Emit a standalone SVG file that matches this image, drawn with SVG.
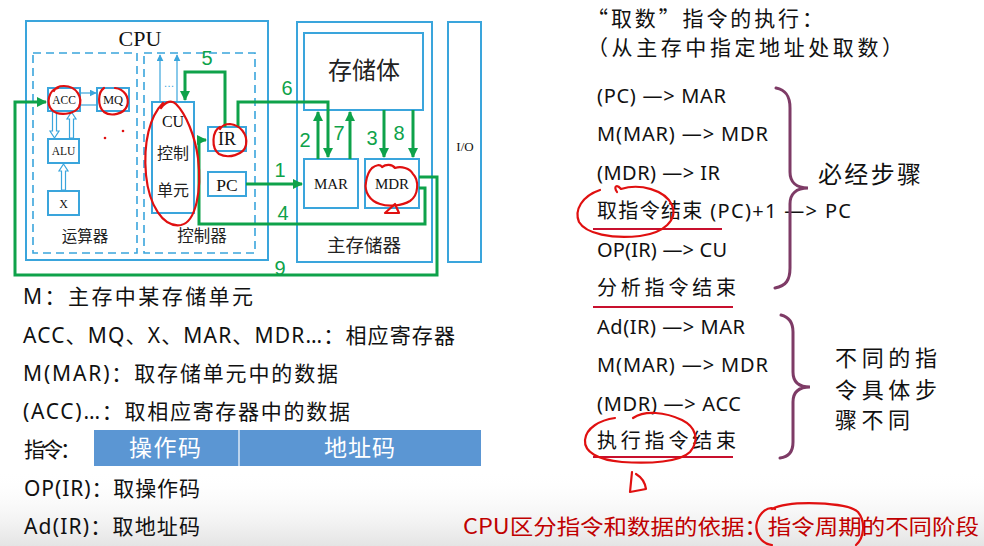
<svg xmlns="http://www.w3.org/2000/svg" width="984" height="546" viewBox="0 0 984 546">
  <style>
    .box { fill: none; stroke: #3aa5dc; stroke-width: 2; }
    .wbox { fill: #ffffff; stroke: #3aa5dc; stroke-width: 2; }
    .dash { fill: none; stroke: #3aa5dc; stroke-width: 1.6; stroke-dasharray: 8 5; }
    .thin { fill: none; stroke: #3aa5dc; stroke-width: 1.2; }
    .hollow { fill: #ffffff; stroke: #3aa5dc; stroke-width: 1.2; }
    .serif { font-family: "Liberation Serif", "Noto Sans CJK SC", serif; fill: #111111; text-anchor: middle; }
    .cjk { font-family: "Noto Sans CJK SC", sans-serif; fill: #222222; text-anchor: middle; }
    .wire { fill: none; stroke: #0ea24a; stroke-width: 3; stroke-linejoin: miter; }
    .num { font-family: "Liberation Sans", "Noto Sans", sans-serif; font-size: 20px; fill: #0ea24a; text-anchor: middle; }
    .txt { font-family: "Noto Sans", "Noto Sans CJK SC", sans-serif; font-size: 20px; fill: #111111; }
    .leg { font-family: "Noto Sans", "Noto Sans CJK SC", sans-serif; font-size: 21px; fill: #111111; }
    .zh { font-family: "Noto Sans CJK SC", sans-serif; fill: #111111; }
    .ink { fill: none; stroke: #e01010; stroke-width: 2.2; stroke-linecap: round; stroke-linejoin: round; }
    .uline { stroke: #c8102e; stroke-width: 2; }
    .brace { fill: none; stroke: #7e3b66; stroke-width: 3; stroke-linecap: round; }
  </style>
  <defs>
    <marker id="ga" viewBox="0 0 10 10" refX="9" refY="5" markerWidth="10" markerHeight="10" markerUnits="userSpaceOnUse" orient="auto">
      <path d="M0,0 L10,5 L0,10 Z" fill="#0ea24a"/>
    </marker>
    <marker id="ba" viewBox="0 0 10 10" refX="9" refY="5" markerWidth="7" markerHeight="7" markerUnits="userSpaceOnUse" orient="auto">
      <path d="M0,0 L10,5 L0,10 Z" fill="#3aa5dc"/>
    </marker>
    <linearGradient id="fade" x1="0" y1="0" x2="0" y2="1">
      <stop offset="0" stop-color="#ffffff" stop-opacity="0"/>
      <stop offset="1" stop-color="#e4e4e4" stop-opacity="1"/>
    </linearGradient>
  </defs>

  <!-- page background -->
  <rect x="0" y="0" width="984" height="546" fill="#ffffff"/>
  <rect x="0" y="470" width="984" height="76" fill="url(#fade)"/>

  <!-- CPU -->
  <g id="cpu">
    <rect class="box" x="26" y="21" width="242" height="239"/>
    <text class="serif" x="140" y="46" font-size="22">CPU</text>
  </g>

  <!-- arithmetic unit -->
  <g id="alu-unit">
    <rect class="dash" x="33" y="53" width="104" height="200"/>
    <text class="cjk" x="85" y="242" font-size="15.5">运算器</text>
  </g>
  <g id="acc">
    <rect class="wbox" x="48" y="88" width="32" height="23"/>
    <text class="serif" x="64" y="104" font-size="11.5">ACC</text>
  </g>
  <g id="mq">
    <rect class="wbox" x="97" y="88" width="32" height="23"/>
    <text class="serif" x="113" y="104" font-size="12.5">MQ</text>
  </g>
  <g id="alu">
    <rect class="wbox" x="48" y="139" width="31" height="24"/>
    <text class="serif" x="63.5" y="155" font-size="11.5">ALU</text>
  </g>
  <g id="x">
    <rect class="wbox" x="48" y="191" width="31" height="24"/>
    <text class="serif" x="63.5" y="208" font-size="12">X</text>
  </g>

  <!-- controller -->
  <g id="controller">
    <rect class="dash" x="144" y="53" width="111" height="200"/>
    <text class="cjk" x="202" y="242" font-size="16.5">控制器</text>
  </g>
  <g id="cu">
    <rect class="wbox" x="152" y="102" width="42" height="111"/>
    <text class="serif" x="173" y="127" font-size="16">CU</text>
    <text class="cjk" x="173" y="159" font-size="16">控制</text>
    <text class="cjk" x="173" y="196" font-size="16">单元</text>
  </g>
  <g id="ir">
    <rect class="wbox" x="208" y="127" width="38" height="24"/>
    <text class="serif" x="227" y="145" font-size="18">IR</text>
  </g>
  <g id="pc">
    <rect class="wbox" x="208" y="172" width="38" height="24"/>
    <text class="serif" x="227" y="191" font-size="17.5">PC</text>
  </g>

  <!-- main memory -->
  <g id="memory">
    <rect class="box" x="297" y="22" width="135" height="240"/>
    <text class="cjk" x="364" y="252" font-size="18.5">主存储器</text>
  </g>
  <g id="storage">
    <rect class="wbox" x="304" y="33" width="119" height="77"/>
    <text class="cjk" x="364" y="79" font-size="24">存储体</text>
  </g>
  <g id="mar">
    <rect class="wbox" x="304" y="159" width="54" height="49"/>
    <text class="serif" x="331" y="189" font-size="15">MAR</text>
  </g>
  <g id="mdr">
    <rect class="wbox" x="365" y="159" width="54" height="49"/>
    <text class="serif" x="392" y="189" font-size="15">MDR</text>
  </g>
  <g id="io">
    <rect class="box" x="448" y="22" width="33" height="240"/>
    <text class="serif" x="465" y="151" font-size="13">I/O</text>
  </g>

  <!-- internal CPU paths -->
  <g id="cpu-paths">
    <line class="thin" x1="80" y1="93" x2="96" y2="93" marker-end="url(#ba)"/>
    <line class="thin" x1="80" y1="105" x2="97" y2="105"/>
    <!-- ACC -> ALU, ALU -> ACC, X -> ALU (hollow arrows) -->
    <path class="hollow" d="M52.5,112 V131 H50 L54.5,138 L59,131 H56.5 V112 Z"/>
    <path class="hollow" d="M69.5,138 V119 H67 L71.5,112 L76,119 H73.5 V138 Z"/>
    <path class="hollow" d="M61.5,190 V171 H59 L63.5,164 L68,171 H65.5 V190 Z"/>
    <!-- CU control lines -->
    <line class="thin" x1="160" y1="102" x2="160" y2="55" marker-end="url(#ba)"/>
    <line class="thin" x1="177" y1="102" x2="177" y2="55" marker-end="url(#ba)"/>
    <text x="169" y="87" font-family="Liberation Sans, sans-serif" font-size="11" fill="#3aa5dc" text-anchor="middle">…</text>
  </g>

  <!-- numbered transfer paths -->
  <g id="connectors">
    <path class="wire" d="M246,184 H302" marker-end="url(#ga)"/>
    <path class="wire" d="M318,159 V112" marker-end="url(#ga)"/>
    <path class="wire" d="M384,110 V157" marker-end="url(#ga)"/>
    <path class="wire" d="M419,188 H425 V224 H199 V140 H206" marker-end="url(#ga)"/>
    <path class="wire" d="M225,127 V72 H185 V100" marker-end="url(#ga)"/>
    <path class="wire" d="M238,127 V102 H328 V157" marker-end="url(#ga)"/>
    <path class="wire" d="M350,159 V112" marker-end="url(#ga)"/>
    <path class="wire" d="M413,110 V157" marker-end="url(#ga)"/>
    <path class="wire" d="M419,177 H437 V275 H15 V102 H46" marker-end="url(#ga)"/>
    <text class="num" x="280" y="177">1</text>
    <text class="num" x="305" y="147">2</text>
    <text class="num" x="372" y="145">3</text>
    <text class="num" x="283" y="220">4</text>
    <text class="num" x="207" y="65">5</text>
    <text class="num" x="287" y="95">6</text>
    <text class="num" x="339" y="140">7</text>
    <text class="num" x="399" y="140">8</text>
    <text class="num" x="280" y="275">9</text>
  </g>

  <!-- handwritten marks on the datapath -->
  <g id="marks-left">
    <path class="ink" d="M58,88 C48,90 46,104 52,110 C58,116 74,115 79,107 C83,98 77,86 64,86 C58,86 55,88 54,91"/>
    <path class="ink" d="M104,88 C98,92 97,106 104,112 C111,117 124,114 127,106 C130,97 124,89 115,88"/>
    <circle cx="105" cy="138" r="1.3" fill="#e01010"/>
    <circle cx="123" cy="131" r="1.3" fill="#e01010"/>
    <path class="ink" d="M161,108 C166,101 172,100 176,104 C186,114 195,136 198,158 C202,190 196,222 181,225 C163,228 149,205 146,175 C143,142 150,116 163,103"/>
    <path class="ink" d="M220,127 C212,131 211,148 219,154 C228,159 244,155 246,145 C248,134 240,125 230,124 C224,124 221,127 220,129"/>
    <path class="ink" d="M372,168 C376,165 380,164 382,167 C386,164 392,164 395,168 C401,166 410,168 413,174 C419,180 419,195 410,201 C402,206 388,207 380,204 C370,201 364,192 366,182 C367,175 369,171 372,168"/>
    <path class="ink" d="M385,213 L395,204 L399,213 Z"/>
  </g>

  <!-- legend -->
  <g id="legend">
    <text class="leg" x="23" y="304" textLength="230" lengthAdjust="spacing">M：主存中某存储单元</text>
    <text class="leg" x="23" y="343" textLength="432" lengthAdjust="spacing">ACC、MQ、X、MAR、MDR…：相应寄存器</text>
    <text class="leg" x="23" y="381" textLength="315" lengthAdjust="spacing">M(MAR)：取存储单元中的数据</text>
    <text class="leg" x="23" y="419" textLength="327" lengthAdjust="spacing">(ACC)…：取相应寄存器中的数据</text>
    <text class="leg" x="24" y="457" textLength="57" lengthAdjust="spacing">指令：</text>
    <text class="leg" x="24" y="496" textLength="176" lengthAdjust="spacing">OP(IR)：取操作码</text>
    <text class="leg" x="24" y="534" textLength="176" lengthAdjust="spacing">Ad(IR)：取地址码</text>
  </g>
  <g id="format">
    <rect x="94" y="430" width="387" height="36" fill="#5b96d3"/>
    <line x1="239" y1="430" x2="239" y2="466" stroke="#dce8f6" stroke-width="1.5"/>
    <text x="129" y="456" font-family="Noto Sans CJK SC, sans-serif" font-size="23" fill="#ffffff" textLength="72" lengthAdjust="spacing">操作码</text>
    <text x="324" y="456" font-family="Noto Sans CJK SC, sans-serif" font-size="23" fill="#ffffff" textLength="71" lengthAdjust="spacing">地址码</text>
  </g>

  <!-- fetch-instruction steps -->
  <g id="steps">
    <text class="zh" x="587" y="26" font-size="21" textLength="236" lengthAdjust="spacing">“取数”指令的执行：</text>
    <text class="zh" x="587" y="55" font-size="21" textLength="316" lengthAdjust="spacing">（从主存中指定地址处取数）</text>
    <text class="txt" x="597" y="103" textLength="129" lengthAdjust="spacing">(PC) —&gt; MAR</text>
    <text class="txt" x="597" y="141" textLength="171" lengthAdjust="spacing">M(MAR) —&gt; MDR</text>
    <text class="txt" x="597" y="180" textLength="123" lengthAdjust="spacing">(MDR) —&gt; IR</text>
    <text class="txt" x="597" y="218" textLength="254" lengthAdjust="spacing">取指令结束 (PC)+1 —&gt; PC</text>
    <text class="txt" x="597" y="257" textLength="130" lengthAdjust="spacing">OP(IR) —&gt; CU</text>
    <text class="txt" x="597" y="295" font-size="22" textLength="139" lengthAdjust="spacing">分析指令结束</text>
    <text class="txt" x="597" y="334" textLength="148" lengthAdjust="spacing">Ad(IR) —&gt; MAR</text>
    <text class="txt" x="597" y="372" textLength="171" lengthAdjust="spacing">M(MAR) —&gt; MDR</text>
    <text class="txt" x="597" y="411" textLength="144" lengthAdjust="spacing">(MDR) —&gt; ACC</text>
    <text class="txt" x="597" y="448" font-size="22" textLength="139" lengthAdjust="spacing">执行指令结束</text>
    <line class="uline" x1="593" y1="229" x2="722" y2="229"/>
    <line class="uline" x1="593" y1="307" x2="733" y2="307"/>
    <line class="uline" x1="593" y1="457" x2="733" y2="457"/>
  </g>
  <g id="brace-fixed">
    <path class="brace" d="M776,88 C786,90 790,96 790,108 V172 C790,182 796,188 808,188 C796,188 790,194 790,204 V268 C790,280 786,286 775,288"/>
    <text class="zh" x="818" y="183" font-size="24" textLength="103" lengthAdjust="spacing">必经步骤</text>
  </g>
  <g id="brace-varied">
    <path class="brace" d="M781,315 C789,317 793,322 793,332 V372 C793,382 799,387 810,387 C799,387 793,392 793,402 V442 C793,452 789,457 780,458"/>
    <text class="zh" x="835" y="366" font-size="22" textLength="102" lengthAdjust="spacing">不同的指</text>
    <text class="zh" x="835" y="398" font-size="22" textLength="102" lengthAdjust="spacing">令具体步</text>
    <text class="zh" x="835" y="428" font-size="22" textLength="75" lengthAdjust="spacing">骤不同</text>
  </g>

  <!-- handwritten marks on the steps -->
  <g id="marks-right">
    <path class="ink" d="M617,192 C613,186 617,184 621,189 C640,183 665,190 672,205 C678,220 664,233 640,236 C612,239 586,234 579,222 C574,210 582,196 600,190"/>
    <path class="ink" d="M633,418 C645,410 665,412 682,420 C696,427 700,440 690,452 C680,462 650,464 622,462 C598,460 584,452 585,440 C586,428 600,420 615,418"/>
    <path class="ink" d="M632,472 L630,492 L646,489 C645,482 641,477 636,474" stroke-width="3"/>
    <path class="ink" d="M775,509 C768,506 760,512 757,522 C754,534 762,544 772,545 M772,509 C790,500 848,502 858,512 C866,522 864,538 856,545"/>
  </g>

  <!-- conclusion -->
  <text x="463" y="534" font-family="Noto Sans CJK SC, sans-serif" font-size="21" fill="#c00000" textLength="516" lengthAdjust="spacingAndGlyphs">CPU区分指令和数据的依据：指令周期的不同阶段</text>
</svg>
